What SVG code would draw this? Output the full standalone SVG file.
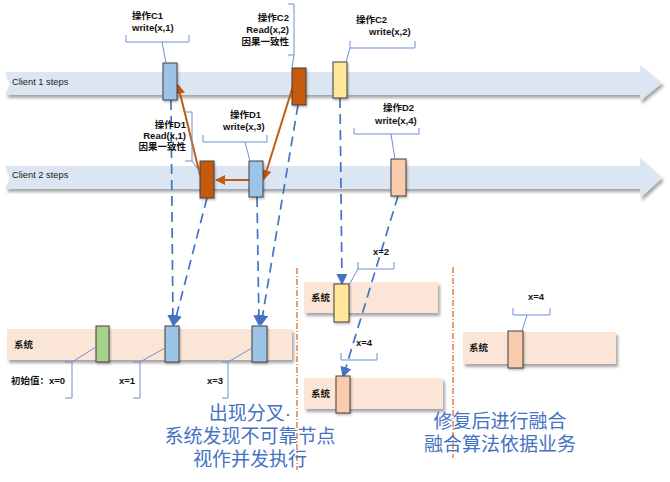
<svg xmlns="http://www.w3.org/2000/svg" width="670" height="482" viewBox="0 0 670 482">
<defs>
<filter id="sh" x="-5%" y="-20%" width="115%" height="160%">
<feDropShadow dx="2" dy="3" stdDeviation="1.5" flood-color="#000" flood-opacity="0.35"/>
</filter>
<filter id="sh2" x="-30%" y="-20%" width="160%" height="140%">
<feDropShadow dx="1" dy="1.5" stdDeviation="1" flood-color="#000" flood-opacity="0.3"/>
</filter>
<marker id="ab" viewBox="0 0 10 10" refX="9" refY="5" markerWidth="6.5" markerHeight="6.5" orient="auto" markerUnits="strokeWidth">
<path d="M0,0 L10,5 L0,10 Z" fill="#4472c4"/>
</marker>
<marker id="ao" viewBox="0 0 10 10" refX="9" refY="5" markerWidth="5" markerHeight="5" orient="auto" markerUnits="strokeWidth">
<path d="M0,0 L10,5 L0,10 Z" fill="#c55a11"/>
</marker>
<style>
text{font-family:"Liberation Sans","Noto Sans CJK SC",sans-serif;fill:#111;}
.lbl{font-size:9.5px;font-weight:bold;}
.cl{font-size:9.3px;fill:#222;}
.band{fill:#dce6f2;filter:url(#sh);}
.sys{fill:#fbe5d6;filter:url(#sh);}
.box{stroke:#404040;stroke-width:1;filter:url(#sh2);}
.br{fill:none;stroke:#6c8fd6;stroke-width:1;}
.dash{fill:none;stroke:#4472c4;stroke-width:1.7;stroke-dasharray:10,6;marker-end:url(#ab);}
.or{fill:none;stroke:#c55a11;stroke-width:2;marker-end:url(#ao);}
.vd{fill:none;stroke:#e07b39;stroke-width:1.4;stroke-dasharray:6,2,1,2;}
.big{font-size:19px;fill:#4472c4;text-anchor:middle;}
</style>
</defs>

<!-- timelines -->
<g id="client1">
<path class="band" d="M5,72 L640,72 L640,65 L662,83 L640,101 L640,95 L5,95 L10,83.5 Z"/>
<text class="cl" x="12" y="85">Client 1 steps</text>
</g>
<g id="client2">
<path class="band" d="M5,166 L640,166 L640,158 L662,178 L640,198 L640,189 L5,189 L10,177.5 Z"/>
<text class="cl" x="12" y="178">Client 2 steps</text>
</g>

<!-- system bars -->
<g id="sys1">
<rect class="sys" x="7" y="329" width="285" height="31"/>
<text class="lbl" x="14" y="348">系统</text>
</g>
<g id="sys2">
<rect class="sys" x="304" y="282" width="134" height="31"/>
<text class="lbl" x="311" y="301">系统</text>
</g>
<g id="sys3">
<rect class="sys" x="304" y="378" width="139" height="31"/>
<text class="lbl" x="311" y="397">系统</text>
</g>
<g id="sys4">
<rect class="sys" x="463" y="332" width="153" height="32"/>
<text class="lbl" x="469" y="351">系统</text>
</g>

<!-- separators -->
<g id="separators">
<line class="vd" x1="297" y1="268" x2="297" y2="470"/>
<line class="vd" x1="453" y1="267" x2="453" y2="458"/>
</g>

<!-- connectors -->
<g id="connectors">
<line class="dash" x1="171" y1="100" x2="173" y2="325"/>
<line class="dash" x1="207" y1="198" x2="174" y2="325"/>
<line class="dash" x1="257" y1="197" x2="259" y2="325"/>
<line class="dash" x1="298" y1="105" x2="261" y2="325"/>
<line class="dash" x1="340" y1="98" x2="342" y2="284"/>
<line class="dash" x1="398" y1="196" x2="343" y2="377"/>
<line class="or" x1="293" y1="86" x2="264" y2="179"/>
<line class="or" x1="200" y1="175" x2="178" y2="85"/>
<line class="or" x1="249" y1="180" x2="216" y2="180"/>
</g>

<!-- client 1 nodes -->
<g id="C1">
<rect class="box" x="163" y="63" width="14" height="37" fill="#9dc3e6"/>
<path class="br" d="M126,35 L126,42 L189,42 L189,35 M162,42 L166,63"/>
<text class="lbl" x="132" y="19">操作C1</text>
<text class="lbl" x="132" y="31">write(x,1)</text>
</g>
<g id="C2read">
<rect class="box" x="292" y="68" width="14" height="37" fill="#c55a11"/>
<path class="br" d="M288,4 L294,4 L294,55 L288,55 M294,55 L292,68"/>
<text class="lbl" x="289" y="21" text-anchor="end">操作C2</text>
<text class="lbl" x="289" y="33" text-anchor="end">Read(x,2)</text>
<text class="lbl" x="289" y="45" text-anchor="end">因果一致性</text>
</g>
<g id="C2write">
<rect class="box" x="333" y="62" width="14" height="36" fill="#ffe699"/>
<path class="br" d="M350,41 L350,48 L415,48 L415,41 M350,48 L346,62"/>
<text class="lbl" x="356" y="23">操作C2</text>
<text class="lbl" x="369" y="35">write(x,2)</text>
</g>

<!-- client 2 nodes -->
<g id="D1read">
<rect class="box" x="200" y="161" width="14" height="37" fill="#c55a11"/>
<path class="br" d="M185,112 L192,112 L192,161 L185,161 M192,161 L200,172"/>
<text class="lbl" x="186" y="128" text-anchor="end">操作D1</text>
<text class="lbl" x="186" y="139" text-anchor="end">Read(x,1)</text>
<text class="lbl" x="186" y="150" text-anchor="end">因果一致性</text>
</g>
<g id="D1write">
<rect class="box" x="249" y="161" width="14" height="36" fill="#9dc3e6"/>
<path class="br" d="M203,135 L203,142 L267,142 L267,135 M245,142 L250,161"/>
<text class="lbl" x="230" y="118">操作D1</text>
<text class="lbl" x="223" y="130">write(x,3)</text>
</g>
<g id="D2">
<rect class="box" x="391" y="159" width="15" height="37" fill="#f8cbad"/>
<path class="br" d="M354,128 L354,134 L419,134 L419,128 M391,134 L395,159"/>
<text class="lbl" x="383" y="111">操作D2</text>
<text class="lbl" x="375" y="124">write(x,4)</text>
</g>

<!-- system 1 values -->
<g id="v0">
<rect class="box" x="96" y="326" width="13" height="36" fill="#a9d18e" stroke="#e8e8e8"/>
<path class="br" d="M96,347 L72,362 M65,362 L72,362 L72,398 L65,398"/>
<text class="lbl" x="11" y="384">初始值：x=0</text>
</g>
<g id="v1">
<rect class="box" x="165" y="326" width="14" height="36" fill="#9dc3e6" stroke="#e8e8e8"/>
<path class="br" d="M165,348 L140,362 M133,362 L140,362 L140,398 L133,398"/>
<text class="lbl" x="119" y="384">x=1</text>
</g>
<g id="v3">
<rect class="box" x="252" y="326" width="15" height="36" fill="#9dc3e6" stroke="#e8e8e8"/>
<path class="br" d="M252,348 L228,362 M222,362 L228,362 L228,398 L222,398"/>
<text class="lbl" x="207" y="384">x=3</text>
</g>

<!-- system 2/3/4 values -->
<g id="v2">
<rect class="box" x="334" y="284" width="15" height="38" fill="#ffe699"/>
<path class="br" d="M358,262 L358,269 L394,269 L394,262 M358,269 L349,285"/>
<text class="lbl" x="373" y="255">x=2</text>
</g>
<g id="v4a">
<rect class="box" x="336" y="376" width="14" height="37" fill="#f8cbad"/>
<path class="br" d="M341,353 L341,360 L377,360 L377,353"/>
<text class="lbl" x="356" y="346">x=4</text>
</g>
<g id="v4b">
<rect class="box" x="508" y="331" width="15" height="37" fill="#f8cbad"/>
<path class="br" d="M513,308 L513,315 L550,315 L550,308 M527,315 L522,331"/>
<text class="lbl" x="528" y="300">x=4</text>
</g>

<!-- notes -->
<g id="note1">
<text class="big" x="250" y="420">出现分叉·</text>
<text class="big" x="250" y="443">系统发现不可靠节点</text>
<text class="big" x="250" y="466">视作并发执行</text>
</g>
<g id="note2">
<text class="big" x="500" y="428">修复后进行融合</text>
<text class="big" x="500" y="451">融合算法依据业务</text>
</g>
</svg>
